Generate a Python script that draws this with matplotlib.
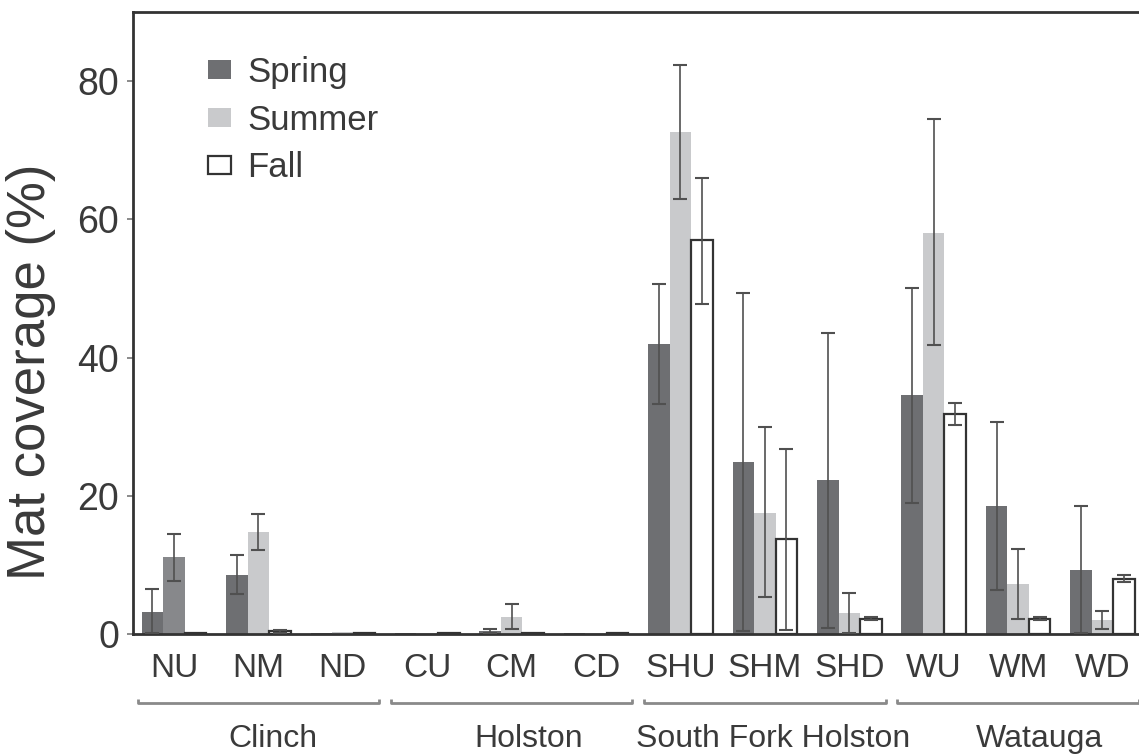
import matplotlib
matplotlib.use("Agg")
import matplotlib.pyplot as plt
import matplotlib.transforms as mtransforms
from matplotlib.patches import Patch
import numpy as np

plt.rcParams['font.family'] = ['Liberation Sans', 'DejaVu Sans']

sites = ['NU', 'NM', 'ND', 'CU', 'CM', 'CD', 'SHU', 'SHM', 'SHD', 'WU', 'WM', 'WD']
rivers = ['Clinch', 'Holston', 'South Fork Holston', 'Watauga']

spring    = [3.2, 8.6, 0.15, 0.15, 0.4, 0.15, 42.0, 24.9, 22.3, 34.6, 18.5, 9.2]
spring_lo = [0.1, 5.8, 0.15, 0.15, 0.1, 0.15, 33.3, 0.4, 0.8, 18.9, 6.3, 0.2]
spring_hi = [6.5, 11.4, 0.15, 0.15, 0.7, 0.15, 50.7, 49.4, 43.6, 50.1, 30.7, 18.5]

summer    = [11.1, 14.7, 0.25, 0.15, 2.5, 0.15, 72.7, 17.5, 3.1, 58.0, 7.2, 2.0]
summer_lo = [7.7, 12.2, 0.25, 0.15, 0.7, 0.15, 63.0, 5.3, 0.2, 41.8, 2.1, 0.7]
summer_hi = [14.4, 17.3, 0.25, 0.15, 4.4, 0.15, 82.3, 29.9, 6.0, 74.5, 12.3, 3.4]

fall    = [0.1, 0.4, 0.1, 0.1, 0.1, 0.1, 57.0, 13.8, 2.2, 31.9, 2.2, 7.9]
fall_lo = [0.1, 0.2, 0.1, 0.1, 0.1, 0.1, 47.8, 0.6, 2.0, 30.2, 2.0, 7.5]
fall_hi = [0.1, 0.6, 0.1, 0.1, 0.1, 0.1, 66.0, 26.8, 2.4, 33.4, 2.4, 8.5]

yticks = [0, 20, 40, 60, 80]

C_SPRING = '#6e6f72'
C_SUMMER = '#c9cacc'
C_SUMMER_NU = '#87888b'
C_EDGE = '#333333'
C_TEXT = '#3a3a3a'
C_ERR = '#505050'

fig = plt.figure(figsize=(11.39, 7.55), dpi=100)
ax = fig.add_axes([133/1139, 121/755, 1010/1139, 622/755])

x = np.arange(len(sites))
w = 0.255

summer_colors = [C_SUMMER_NU if s == 'NU' else C_SUMMER for s in sites]

ax.bar(x - w, spring, w, color=C_SPRING, edgecolor='none', zorder=2)
ax.bar(x, summer, w, color=summer_colors, edgecolor='none', zorder=2)
ax.bar(x + w, fall, w, color='white', edgecolor=C_EDGE, linewidth=1.6, zorder=2)

def errs(offset, vals, lo, hi):
    vals = np.array(vals); lo = np.array(lo); hi = np.array(hi)
    m = hi > lo
    ax.errorbar(x[m] + offset, vals[m], yerr=[vals[m] - lo[m], hi[m] - vals[m]],
                fmt='none', ecolor=C_ERR, elinewidth=1.2, capsize=4.8, capthick=1.5, zorder=3)

errs(-w, spring, spring_lo, spring_hi)
errs(0, summer, summer_lo, summer_hi)
errs(w, fall, fall_lo, fall_hi)

ax.set_xlim(-0.486, 11.48)
ax.set_ylim(0, 90)
ax.set_yticks(yticks)
ax.set_yticklabels([str(t) for t in yticks])
ax.set_xticks(x)
ax.set_xticklabels(sites)

for side in ['left', 'bottom', 'top', 'right']:
    ax.spines[side].set_color(C_EDGE)
    ax.spines[side].set_linewidth(2.0)

ax.tick_params(axis='y', direction='out', length=4, width=1.2, color='#777777',
               labelsize=27, labelcolor=C_TEXT, pad=6)
ax.tick_params(axis='x', length=0, labelsize=24, labelcolor=C_TEXT, pad=14)

fig.text(31/1139, 1 - 372/755, 'Mat coverage (%)', rotation=90, ha='center', va='center',
         fontsize=38, color=C_TEXT)

handles = [Patch(facecolor=C_SPRING, edgecolor='none'),
           Patch(facecolor=C_SUMMER, edgecolor='none'),
           Patch(facecolor='white', edgecolor=C_EDGE, linewidth=1.6)]
leg = ax.legend(handles, ['Spring', 'Summer', 'Fall'], loc='upper left',
                bbox_to_anchor=(0.074, 0.929), frameon=False,
                fontsize=25, handlelength=0.68, handleheight=0.45, handletextpad=0.45,
                labelspacing=0.42, borderpad=0, borderaxespad=0)
for t in leg.get_texts():
    t.set_color(C_TEXT)

trans = mtransforms.blended_transform_factory(ax.transData, ax.transAxes)
label_pos = [1.17, 4.2, 7.1, 10.25]
for g, name in enumerate(rivers):
    x0 = g * 3 - 0.43
    x1 = g * 3 + 2.43
    yb = -0.111
    ax.plot([x0, x0, x1, x1], [yb + 0.006, yb, yb, yb + 0.006], transform=trans,
            color='#8a8a8a', lw=2.0, clip_on=False, solid_capstyle='butt')
    ax.text(label_pos[g], -0.169, name, transform=trans, ha='center', va='center',
            fontsize=23, color=C_TEXT, clip_on=False)

fig.savefig('out.png', dpi=100)
